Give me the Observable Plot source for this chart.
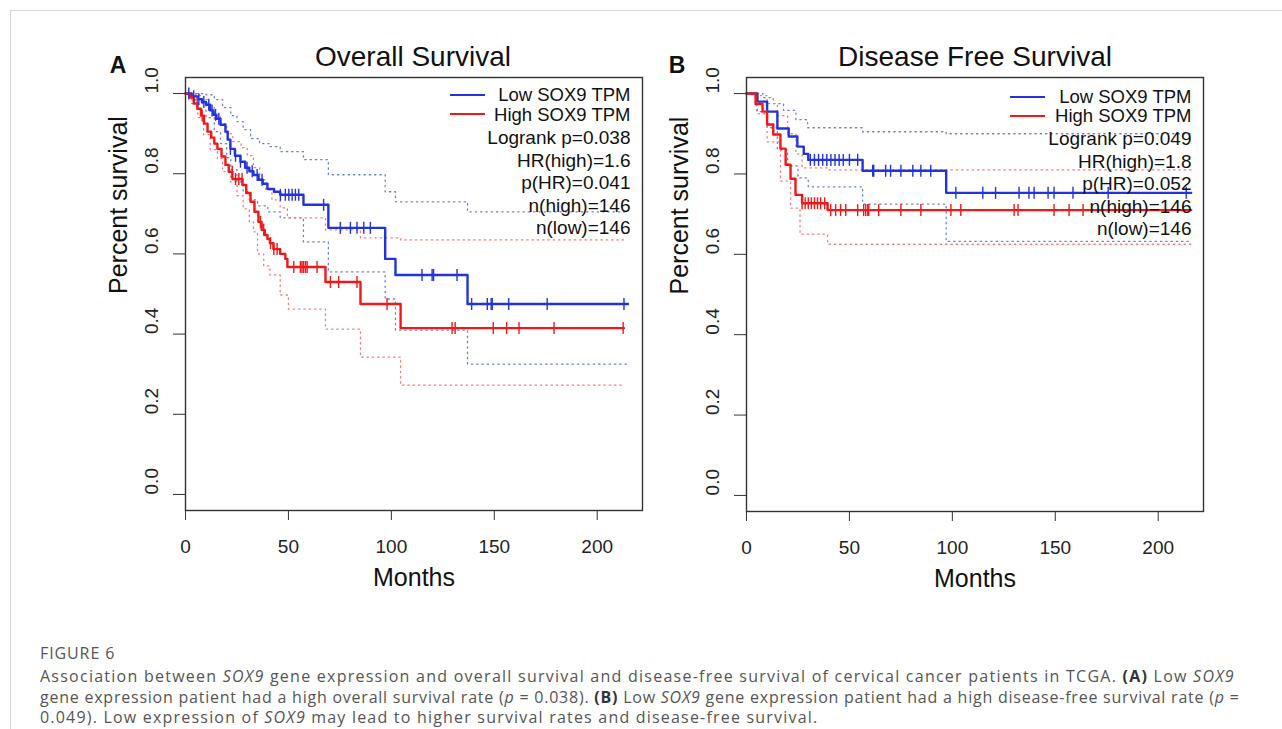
<!DOCTYPE html>
<html><head><meta charset="utf-8">
<script src="https://cdn.jsdelivr.net/npm/d3@7"></script>
<script src="https://cdn.jsdelivr.net/npm/@observablehq/plot@0.6"></script>
<style>
body{margin:0;background:#fff;}
#page{position:relative;width:1282px;height:729px;overflow:hidden;font-family:"Liberation Sans",Arial,sans-serif;color:#111;}
.frameline{position:absolute;left:10px;top:10px;width:1300px;height:800px;border-left:1px solid #d6d6d6;border-top:1px solid #d6d6d6;}
.plot{position:absolute;top:0;}
.title{position:absolute;font-size:28px;transform:translate(-50%,-50%);white-space:nowrap;}
.letter{position:absolute;font-size:23px;font-weight:bold;transform:translate(-50%,-50%);}
.sw{position:absolute;height:0;border-top:2.5px solid;}
.cap{position:absolute;left:40px;font-family:"Open Sans","Noto Sans",sans-serif;color:#555;white-space:nowrap;line-height:18px;}
.cap b{color:#333;}
</style></head>
<body><div id="page"><div class="frameline"></div></div>
<script>
// ---------------- data ----------------
const xTicks = [0, 50, 100, 150, 200];
const yTicks = [0, 0.2, 0.4, 0.6, 0.8, 1.0];

// Panel A: Overall Survival
const osLowT  = [0,3,6,8,10,12,13.6,15,17,19.4,20.5,21.8,24,26.7,29,31,33,35.5,37.5,39.8,43,46,57.3,69.4,97,102,137,215];
const osLowS  = [1,0.993,0.986,0.979,0.972,0.958,0.947,0.937,0.922,0.905,0.885,0.862,0.845,0.83,0.815,0.806,0.797,0.785,0.775,0.762,0.755,0.7475,0.7225,0.665,0.5875,0.5475,0.475,0.475];
const osHighT = [0,2,4,5.8,7.5,9,10.7,12.5,14,15.5,17.5,19.4,21,22.8,27.7,29.5,31.6,33.5,35.4,37,38.5,39.8,41,42.7,46,48.5,49.5,68,85,104.5,213];
const osHighS = [1,0.99,0.975,0.962,0.945,0.925,0.905,0.89,0.875,0.862,0.843,0.822,0.805,0.787,0.772,0.752,0.73,0.705,0.68,0.66,0.647,0.637,0.627,0.612,0.6,0.5875,0.5675,0.53,0.475,0.415,0.415];
const osLowUpT  = [0,10,14,18,22,25,28,31.6,36,41,46,57.3,69.4,97,102,137,215];
const osLowUpS  = [1,0.997,0.985,0.965,0.945,0.93,0.91,0.8875,0.875,0.8675,0.855,0.835,0.7975,0.755,0.73,0.705,0.705];
const osLowLoT  = [0,5,10,14,17,20,22,25,28,31,35,40,46,57.3,69.4,97,102,137,215];
const osLowLoS  = [1,0.975,0.94,0.905,0.875,0.84,0.81,0.78,0.755,0.735,0.72,0.705,0.69,0.63,0.555,0.4875,0.41,0.325,0.325];
const osHighUpT = [0,5,8,11,14,17,20,23,27,30,33,36,39,42,46,49.5,68,85,104.5,213];
const osHighUpS = [1,0.995,0.985,0.965,0.945,0.925,0.9,0.88,0.865,0.845,0.815,0.785,0.76,0.735,0.715,0.69,0.66,0.64,0.635,0.635];
const osHighLoT = [0,3,6,8.7,12,15.5,18,21.8,25,28,31,33,35,38,41,46,50,68,85,104.5,213];
const osHighLoS = [1,0.975,0.94,0.8975,0.86,0.8375,0.805,0.78,0.745,0.7125,0.68,0.655,0.6,0.57,0.5475,0.4975,0.4625,0.4125,0.3425,0.2725,0.2725];
const osLowCens  = [1.6,4,6.5,8.9,11.3,12.9,14.6,16.2,21.8,24.3,26.7,29.9,32.4,34.8,37.2,46.1,48.5,50.2,51.8,53.4,55,67.1,75.2,80.1,83.3,86.6,89.8,114.9,119.8,120.5,131.9,139,146.6,148.5,149,157,175.7,213];
const osHighCens = [5.7,8.1,22.7,24.3,25.9,27.5,36.4,38,41.3,42.9,44.5,52.6,55.8,56.6,57.4,58.3,59.1,63.9,70.4,74.4,83.3,97.9,129.5,131,149.5,156,162,179,212.6];
const osLegend = ["Logrank p=0.038","HR(high)=1.6","p(HR)=0.041","n(high)=146","n(low)=146"];

// Panel B: Disease Free Survival
const dfsLowT  = [0,5.3,10,15,20.5,24.7,27.8,30,56.4,97,216];
const dfsLowS  = [1,0.98,0.955,0.913,0.893,0.868,0.85,0.835,0.808,0.753,0.753];
const dfsHighT = [0,4.4,7.8,10,13,16.5,19,21.4,23.8,27,39.4,216];
const dfsHighS = [1,0.974,0.955,0.923,0.898,0.863,0.823,0.788,0.748,0.727,0.71,0.71];
const dfsLowUpT  = [0,8,13,18,24,29.7,56.4,97,216];
const dfsLowUpS  = [1,0.99,0.975,0.958,0.935,0.915,0.905,0.9,0.9];
const dfsLowLoT  = [0,5,10,15,20,25,30,56.4,97,216];
const dfsLowLoS  = [1,0.955,0.915,0.86,0.82,0.79,0.768,0.725,0.632,0.632];
const dfsHighUpT = [0,5,10,15,20,24,27,39.4,216];
const dfsHighUpS = [1,0.995,0.975,0.945,0.9,0.85,0.815,0.81,0.81];
const dfsHighLoT = [0,5.3,10,16.5,21.4,26,39.4,216];
const dfsHighLoS = [1,0.95,0.88,0.782,0.715,0.65,0.625,0.625];
const dfsLowCens  = [31,33,35,37,39,41,43,45,47,50,54,61.3,61.8,67.6,70,75,80.8,84.7,89.5,101.7,114.8,121,132.4,137.2,139.7,146.5,149.4,158.6,175.7,213.6];
const dfsHighCens = [27,28.5,30,31.5,33,34.5,36,38,40.9,43.3,45.7,48.2,54,56.9,57.9,58.9,59.4,64.2,75,84.7,99.3,104.1,130,131.9,149.4,156.7,163.5];
const dfsLegend = ["Logrank p=0.049","HR(high)=1.8","p(HR)=0.052","n(high)=146","n(low)=146"];

const seriesNames = ["Low SOX9 TPM", "High SOX9 TPM"];

// ---------------- helpers ----------------
const BLUE = "#2233dd", RED = "#f01818", BLUE_CI = "#6f7fc4", RED_CI = "#f07a7a";
const rows = (T, S) => T.map((t, i) => ({t, s: S[i]}));
const stepAt = (T, S, t) => { let s = S[0]; for (let i = 0; i < T.length; i++) if (T[i] <= t) s = S[i]; return s; };
const vbar = {draw(ctx, size) { const r = Math.sqrt(size / Math.PI); ctx.moveTo(0, -r); ctx.lineTo(0, r); }};

function panel(cfg) {
  const ciMark = (T, S, c) => Plot.line(rows(T, S), {x: "t", y: "s", curve: "step-after", stroke: c, strokeWidth: 1.3, strokeDasharray: "1.3,4"});
  const cens = (C, T, S, c) => Plot.dot(C.map(t => ({t, s: stepAt(T, S, t)})), {x: "t", y: "s", symbol: vbar, r: 6, fill: "none", stroke: c, strokeWidth: 1.4});
  const legendDy = [60, 83, 105, 128, 150];
  const txt = (s, dy, fs) => Plot.text([s], {frameAnchor: "top-right", dx: -12, dy: dy + cfg.legOff, textAnchor: "end", lineAnchor: "middle", fontSize: fs, fill: "#111"});
  return Plot.plot({
    width: cfg.width, height: 600,
    marginLeft: cfg.ml, marginRight: cfg.mr, marginTop: cfg.mt, marginBottom: 600 - cfg.fb,
    style: {background: "transparent", overflow: "visible", fontFamily: "Liberation Sans, Arial, sans-serif", color: "#222"},
    x: {domain: [0, 222]},
    y: {domain: [-0.04, 1.04]},
    marks: [
      ciMark(cfg.lowUpT, cfg.lowUpS, BLUE_CI), ciMark(cfg.lowLoT, cfg.lowLoS, BLUE_CI),
      ciMark(cfg.highUpT, cfg.highUpS, RED_CI), ciMark(cfg.highLoT, cfg.highLoS, RED_CI),
      Plot.line(rows(cfg.lowT, cfg.lowS), {x: "t", y: "s", curve: "step-after", stroke: BLUE, strokeWidth: 2.4}),
      Plot.line(rows(cfg.highT, cfg.highS), {x: "t", y: "s", curve: "step-after", stroke: RED, strokeWidth: 2.4}),
      cens(cfg.lowC, cfg.lowT, cfg.lowS, BLUE),
      cens(cfg.highC, cfg.highT, cfg.highS, RED),
      Plot.frame({stroke: "#333", strokeWidth: 1.4}),
      Plot.axisX(xTicks, {tickSize: 10, tickPadding: 19, fontSize: 19, stroke: "#333", fill: "#222", label: null}),
      Plot.axisY(yTicks, {tickSize: 12, tickFormat: () => "", stroke: "#333", label: null}),
      Plot.text(yTicks, {y: d => d, text: d => d.toFixed(1), frameAnchor: "left", dx: -34, rotate: -90, fontSize: 19, fill: "#222"}),
      Plot.text(["Months"], {frameAnchor: "bottom", dy: 75, fontSize: 25, fill: "#111"}),
      Plot.text(["Percent survival"], {frameAnchor: "left", dx: -67, rotate: -90, fontSize: 25, fill: "#111"}),
      txt(seriesNames[0], 18, 18.5), txt(seriesNames[1], 37.5, 18.5),
      ...cfg.legend.map((s, i) => txt(s, legendDy[i], 19))
    ]
  });
}

const page = document.getElementById("page");
function place(svg, left) { svg.classList.add("plot"); svg.style.left = left + "px"; page.appendChild(svg); }

// frame A: left 185, right 642, top 77, bottom 510
place(panel({width: 590, ml: 115, mr: 660 - 642, mt: 77, fb: 510, legOff: 0,
  lowT: osLowT, lowS: osLowS, highT: osHighT, highS: osHighS,
  lowUpT: osLowUpT, lowUpS: osLowUpS, lowLoT: osLowLoT, lowLoS: osLowLoS,
  highUpT: osHighUpT, highUpS: osHighUpS, highLoT: osHighLoT, highLoS: osHighLoS,
  lowC: osLowCens, highC: osHighCens, legend: osLegend}), 70);
// frame B: left 746, right 1203, top 77, bottom 511
place(panel({width: 560, ml: 86, mr: 1220 - 1203, mt: 77, fb: 511, legOff: 1.5,
  lowT: dfsLowT, lowS: dfsLowS, highT: dfsHighT, highS: dfsHighS,
  lowUpT: dfsLowUpT, lowUpS: dfsLowUpS, lowLoT: dfsLowLoT, lowLoS: dfsLowLoS,
  highUpT: dfsHighUpT, highUpS: dfsHighUpS, highLoT: dfsHighLoT, highLoS: dfsHighLoS,
  lowC: dfsLowCens, highC: dfsHighCens, legend: dfsLegend}), 660);

// titles, letters, legend swatches
const html = (cls, style, content) => { const d = document.createElement("div"); d.className = cls; Object.assign(d.style, style); d.innerHTML = content; page.appendChild(d); };
html("title", {left: "413px", top: "57px"}, "Overall Survival");
html("title", {left: "975px", top: "57px"}, "Disease Free Survival");
html("letter", {left: "118px", top: "65px"}, "A");
html("letter", {left: "677px", top: "65px"}, "B");
html("sw", {left: "450px", top: "94px", width: "35px", borderColor: BLUE}, "");
html("sw", {left: "450px", top: "113px", width: "35px", borderColor: RED}, "");
html("sw", {left: "1010px", top: "96px", width: "35px", borderColor: BLUE}, "");
html("sw", {left: "1010px", top: "115px", width: "35px", borderColor: RED}, "");

// caption
html("cap", {top: "644px", fontSize: "16px", letterSpacing: "0.9px"}, "FIGURE 6");
html("cap", {top: "667px", fontSize: "16px", letterSpacing: "1.25px"}, "Association between <i>SOX9</i> gene expression and overall survival and disease-free survival of cervical cancer patients in TCGA. <b>(A)</b> Low <i>SOX9</i>");
html("cap", {top: "688px", fontSize: "16px", letterSpacing: "0.77px"}, "gene expression patient had a high overall survival rate (<i>p</i> = 0.038). <b>(B)</b> Low <i>SOX9</i> gene expression patient had a high disease-free survival rate (<i>p</i> =");
html("cap", {top: "708px", fontSize: "16px", letterSpacing: "1.2px"}, "0.049). Low expression of <i>SOX9</i> may lead to higher survival rates and disease-free survival.");
</script></body></html>
